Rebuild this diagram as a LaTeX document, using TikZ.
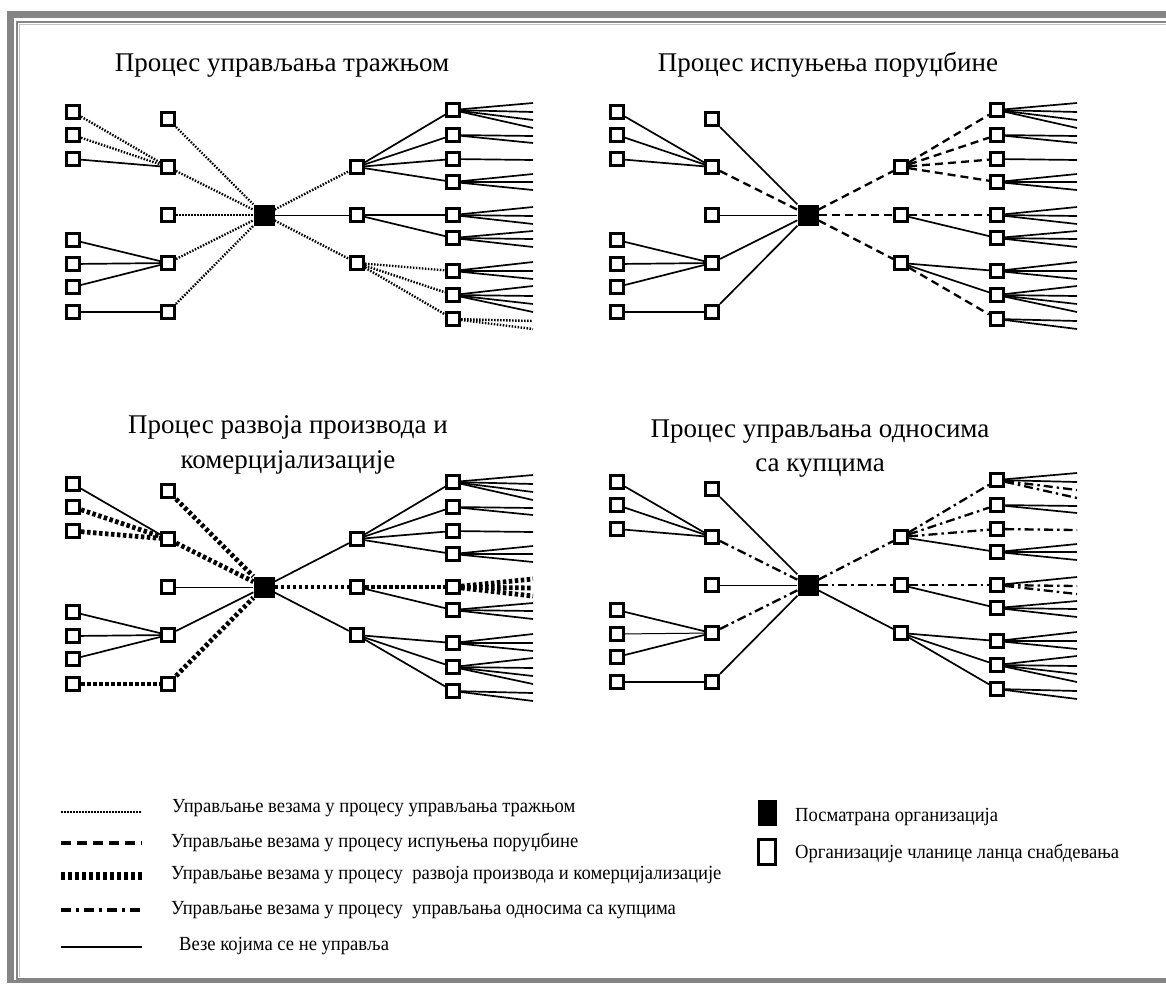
\documentclass[tikz,border=0pt]{standalone}
\usepackage{fontspec}
\setmainfont{Liberation Serif}
\newfontfamily\legendfont[FakeStretch=0.93]{Liberation Serif}
\usetikzlibrary{calc}

\definecolor{framegray}{HTML}{858585}
\definecolor{framelight}{HTML}{C4C4C4}

\tikzset{
  member/.style={rectangle, draw=black, fill=white, line width=2.6pt, minimum size=13.5pt, inner sep=0pt},
  hub/.style={rectangle, fill=black, minimum size=21pt, inner sep=0pt},
  link/.style={line width=1.7pt},
  thinlink/.style={line width=1pt},
  mdemand/.style={line width=2.4pt, dash pattern=on 1.5pt off 1.5pt},
  morder/.style={line width=2.3pt, dash pattern=on 8pt off 5pt},
  mproduct/.style={line width=4.8pt, dash pattern=on 3.5pt off 2.5pt},
  mcustomer/.style={line width=2.3pt, dash pattern=on 9pt off 4pt on 2.5pt off 4pt},
  title/.style={font=\fontsize{27}{32}\selectfont, anchor=base, inner sep=0pt},
  legtext/.style={font=\legendfont\fontsize{20}{24}\selectfont, anchor=base west, inner sep=0pt},
  f1/.style={link}, f1b/.style={link}, f2/.style={link}, f3/.style={link},
  f4/.style={link}, f5/.style={link}, f5b/.style={link}, f6/.style={link},
  f7/.style={link}, f8/.style={link}, f9/.style={link},
}

% one supply-chain network: suppliers (a, b), focal firm (o), customers (c, d)
\newcommand\panel[1]{%
  \foreach \y [count=\i] in {-103,-80,-56,25,49,72,97}
    \node[member] (#1-a\i) at (73,\y) {};
  \foreach \y [count=\i] in {-96,-48,0,48,97}
    \node[member] (#1-b\i) at (168,\y) {};
  \node[hub] (#1-o) at (264,0) {};
  \foreach \y [count=\i] in {-48,0,48}
    \node[member] (#1-c\i) at (357,\y) {};
  \foreach \y [count=\i] in {-105,-80,-56,-33,0,23,56,80,104}
    \node[member] (#1-d\i) at (453,\y) {};
}

% links towards the open end on the right
\newcommand\fanout[6]{%
  \foreach \k [count=\n] in {#4}{%
    \coordinate (#1-#6\n) at (533,{#3+\k});
    \draw[#5] (#1-d#2) -- (#1-#6\n);
  }%
}
\newcommand\stdfans[1]{%
  \fanout{#1}{1}{-105}{-7,2}{f1}{ga}
  \fanout{#1}{1}{-105}{10,18}{f1b}{gb}
  \fanout{#1}{2}{-80}{1,8}{f2}{gc}
  \fanout{#1}{3}{-56}{1}{f3}{gd}
  \fanout{#1}{4}{-33}{-8,0,8}{f4}{ge}
  \fanout{#1}{5}{0}{-8}{f5}{gf}
  \fanout{#1}{5}{0}{1,9}{f5b}{gg}
  \fanout{#1}{6}{23}{-7,1,9}{f6}{gh}
  \fanout{#1}{7}{56}{-9,0,8}{f7}{gi}
  \fanout{#1}{8}{80}{-9,1,9,17}{f8}{gj}
  \fanout{#1}{9}{104}{2,10}{f9}{gk}
}
\newcommand\links[3]{\foreach \u/\v in {#3} \draw[#2] (#1-\u) -- (#1-\v);}

\begin{document}
\begin{tikzpicture}[x=1pt,y=-1pt]
\useasboundingbox (0,0) rectangle (1166,983);

% frame
\fill[framegray] (7,11) rectangle (1166,18);
\fill[framegray] (7,11) rectangle (14,983);
\draw[framegray, line width=2pt] (1166,22) -- (17,22) -- (17,979) -- (1166,979);
\draw[framelight, line width=1pt] (1166,24.5) -- (19.5,24.5) -- (19.5,977);
\fill[framegray] (14,980) rectangle (1166,983);

% titles
\node[title] (t1) at (282,71) {Процес управљања тражњом};
\node[title] (t2) at (828,71) {Процес испуњења поруџбине};
\node[title] (t3) at (288,433) {Процес развоја производа и};
\node[title] (t3b) at (288,468) {комерцијализације};
\node[title] (t4) at (820,437) {Процес управљања односима};
\node[title] (t4b) at (820,471) {са купцима};

% demand management
\begin{scope}[shift={(0,215)}, f9/.style={mdemand}]
  \panel{tl}
  \links{tl}{link}{a3/b2, a4/b4, a5/b4, a6/b4, a7/b5, c1/d1, c1/d2, c1/d3, c1/d4, c2/d5, c2/d6}
  \links{tl}{thinlink}{o/c2}
  \links{tl}{mdemand}{a1/b2, a2/b2, b1/o, b2/o, b3/o, b4/o, b5/o, o/c1, o/c3, c3/d7, c3/d8, c3/d9}
  \stdfans{tl}
\end{scope}

% order fulfillment
\begin{scope}[shift={(544,215)}]
  \panel{tr}
  \links{tr}{link}{a1/b2, a2/b2, a3/b2, a4/b4, a5/b4, a6/b4, a7/b5, b1/o, b4/o, b5/o, c2/d6, c3/d7, c3/d8}
  \links{tr}{thinlink}{b3/o}
  \links{tr}{morder}{b2/o, o/c1, o/c2, o/c3, c1/d1, c1/d2, c1/d3, c1/d4, c2/d5, c3/d9}
  \stdfans{tr}
\end{scope}

% product development and commercialization
\begin{scope}[shift={(0,587)}, f5/.style={mproduct}, f5b/.style={mproduct}]
  \panel{bl}
  \links{bl}{link}{a1/b2, a4/b4, a5/b4, a6/b4, b4/o, o/c1, o/c3, c1/d1, c1/d2, c1/d3, c1/d4, c2/d6, c3/d7, c3/d8, c3/d9}
  \links{bl}{thinlink}{b3/o}
  \links{bl}{mproduct}{a2/b2, a3/b2, a7/b5, b1/o, b2/o, b5/o, o/c2, c2/d5}
  \stdfans{bl}
\end{scope}

% customer relationship management
\begin{scope}[shift={(544,585)}, f1b/.style={mcustomer}, f3/.style={mcustomer}, f5b/.style={mcustomer}]
  \panel{br}
  \links{br}{link}{a1/b2, a2/b2, a3/b2, a4/b4, a6/b4, a7/b5, b1/o, b5/o, o/c3, c1/d4, c2/d6, c3/d7, c3/d8, c3/d9}
  \links{br}{thinlink}{a5/b4, b3/o}
  \links{br}{mcustomer}{b2/o, b4/o, o/c1, o/c2, c1/d1, c1/d2, c1/d3, c2/d5}
  \stdfans{br}
\end{scope}

% legend: link types
\coordinate (la1) at (61,812);  \coordinate (lb1) at (142,812);
\coordinate (la2) at (61,843);  \coordinate (lb2) at (142,843);
\coordinate (la3) at (61,876);  \coordinate (lb3) at (142,876);
\coordinate (la4) at (61,910);  \coordinate (lb4) at (142,910);
\coordinate (la5) at (61,947);  \coordinate (lb5) at (142,947);
\draw[line width=2.5pt, dash pattern=on 1.5pt off 1.5pt] (la1) -- (lb1);
\draw[line width=3.5pt, dash pattern=on 10pt off 6pt] (la2) -- (lb2);
\draw[line width=8pt, dash pattern=on 3.5pt off 3.5pt] (la3) -- (lb3);
\draw[line width=3.5pt, dash pattern=on 10pt off 5pt on 3pt off 5pt] (la4) -- (lb4);
\draw[line width=2.5pt] (la5) -- (lb5);

\node[legtext] (g1) at (172,812) {Управљање везама у процесу управљања тражњом};
\node[legtext] (g2) at (171,847) {Управљање везама у процесу испуњења поруџбине};
\node[legtext] (g3) at (171,879) {Управљање везама у процесу\ \ развоја производа и комерцијализације};
\node[legtext] (g4) at (171,914) {Управљање везама у процесу\ \ управљања односима са купцима};
\node[legtext] (g5) at (179,950) {Везе којима се не управља};

% legend: node types
\node[rectangle, fill=black, minimum width=19pt, minimum height=26pt, inner sep=0pt] (lhub) at (767,813) {};
\node[rectangle, draw=black, fill=white, line width=2.6pt, minimum width=17pt, minimum height=25pt, inner sep=0pt] (lmem) at (767,852) {};
\node[legtext] (g6) at (795,821) {Посматрана организација};
\node[legtext] (g7) at (795,858) {Организације чланице ланца снабдевања};
\end{tikzpicture}
\end{document}
